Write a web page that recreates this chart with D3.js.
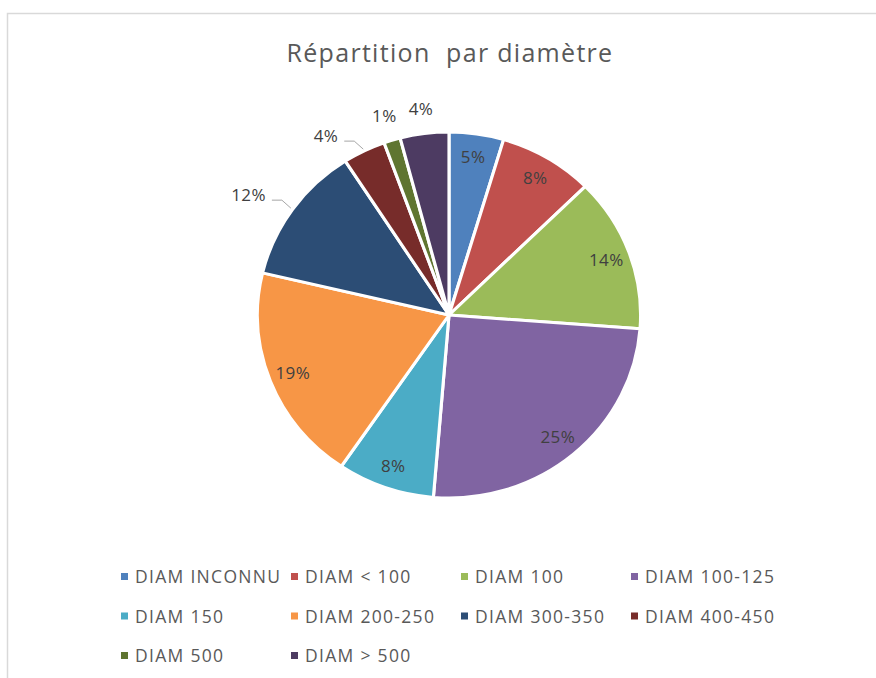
<!DOCTYPE html>
<html>
<head>
<meta charset="utf-8">
<script src="https://cdn.jsdelivr.net/npm/d3@7"></script>
<style>
  body { margin: 0; background: #fff; }
  text { font-family: "Open Sans", "Liberation Sans", Arial, sans-serif; }
</style>
</head>
<body>
<div class="canvas"></div>
<script>
// data
const categories = ['DIAM INCONNU', 'DIAM < 100', 'DIAM 100', 'DIAM 100-125', 'DIAM 150',
  'DIAM 200-250', 'DIAM 300-350', 'DIAM 400-450', 'DIAM 500', 'DIAM > 500'];
const shares = [4.6, 8.0, 13.6, 25.1, 8.2, 19.2, 12.2, 3.6, 1.4, 4.1];
const colors = ['#4F81BD', '#C0504D', '#9BBB59', '#8064A2', '#4BACC6',
  '#F79646', '#2C4D75', '#772C2A', '#5F7530', '#4D3B62'];
// which labels Excel put outside, and which of those got a leader line
const outside = [false, false, false, false, false, false, true, true, true, true];
const leader = [false, false, false, false, false, false, true, true, false, false];

const width = 876, height = 678;
const svg = d3.select('.canvas')
  .append('svg')
    .attr('width', width)
    .attr('height', height);

// chart area border
svg.append('rect')
  .attr('x', 7.5).attr('y', 13.5)
  .attr('width', 900).attr('height', 700)
  .attr('fill', '#fff')
  .attr('stroke', '#d9d9d9')
  .attr('stroke-width', 1.5);

// title
svg.append('text')
  .attr('x', 450).attr('y', 62)
  .attr('text-anchor', 'middle')
  .attr('font-size', 25)
  .attr('letter-spacing', 1.3)
  .attr('fill', '#595959')
  .attr('xml:space', 'preserve')
  .text('Répartition  par diamètre');

// pie
const cx = 449, cy = 315, radius = 183, sx = 1.047;
const total = d3.sum(shares);
const pie = d3.pie().sort(null).value(d => d)(shares);
const arc = d3.arc().innerRadius(0).outerRadius(radius);

const pieGroup = svg.append('g')
  .attr('transform', `translate(${cx}, ${cy}) scale(${sx}, 1)`);

pieGroup.selectAll('path')
  .data(pie)
  .enter().append('path')
    .attr('d', arc)
    .attr('fill', (d, i) => colors[i])
    .attr('stroke', '#fff')
    .attr('stroke-width', 3)
    .attr('stroke-linejoin', 'round');

// point at given radius along the slice's middle angle, in page coordinates
const polar = (d, r) => {
  const a = (d.startAngle + d.endAngle) / 2;
  return [cx + r * Math.sin(a) * sx, cy - r * Math.cos(a)];
};

const labelStyle = sel => sel
  .attr('font-size', 17)
  .attr('letter-spacing', 0.4)
  .attr('fill', '#404040');

const labelGroup = svg.append('g');
pie.forEach((d, i) => {
  const txt = Math.round(d.value / total * 100) + '%';
  if (!outside[i]) {
    const [x, y] = polar(d, 160);
    labelGroup.append('text')
      .attr('x', x).attr('y', y + 6)
      .attr('text-anchor', 'middle')
      .call(labelStyle)
      .text(txt);
  } else if (leader[i]) {
    // leader: from slice edge up-left to an elbow, then a short horizontal run
    const [x0, y0] = polar(d, radius + 2);
    const ex = x0 - 9, ey = y0 - 8;
    const hx = ex - 10;
    labelGroup.append('polyline')
      .attr('points', `${x0},${y0} ${ex},${ey} ${hx},${ey}`)
      .attr('fill', 'none')
      .attr('stroke', '#a6a6a6')
      .attr('stroke-width', 1);
    labelGroup.append('text')
      .attr('x', hx - 6).attr('y', ey + 1)
      .attr('text-anchor', 'end')
      .call(labelStyle)
      .text(txt);
  } else {
    const [x, y] = polar(d, 208);
    labelGroup.append('text')
      .attr('x', x).attr('y', y + 6)
      .attr('text-anchor', 'middle')
      .call(labelStyle)
      .text(txt);
  }
});

// legend
const legendX = 121, colWidth = 170, rowHeight = 39.5, legendY = 577;
const legend = svg.append('g');
categories.forEach((name, i) => {
  const col = i % 4, row = Math.floor(i / 4);
  const g = legend.append('g')
    .attr('transform', `translate(${legendX + col * colWidth}, ${legendY + row * rowHeight})`);
  g.append('rect')
    .attr('x', 0).attr('y', -4)
    .attr('width', 7).attr('height', 7)
    .attr('fill', colors[i]);
  g.append('text')
    .attr('x', 14).attr('y', 6)
    .attr('font-size', 17.5)
    .attr('letter-spacing', 1.3)
    .attr('fill', '#595959')
    .text(name);
});
</script>
</body>
</html>
